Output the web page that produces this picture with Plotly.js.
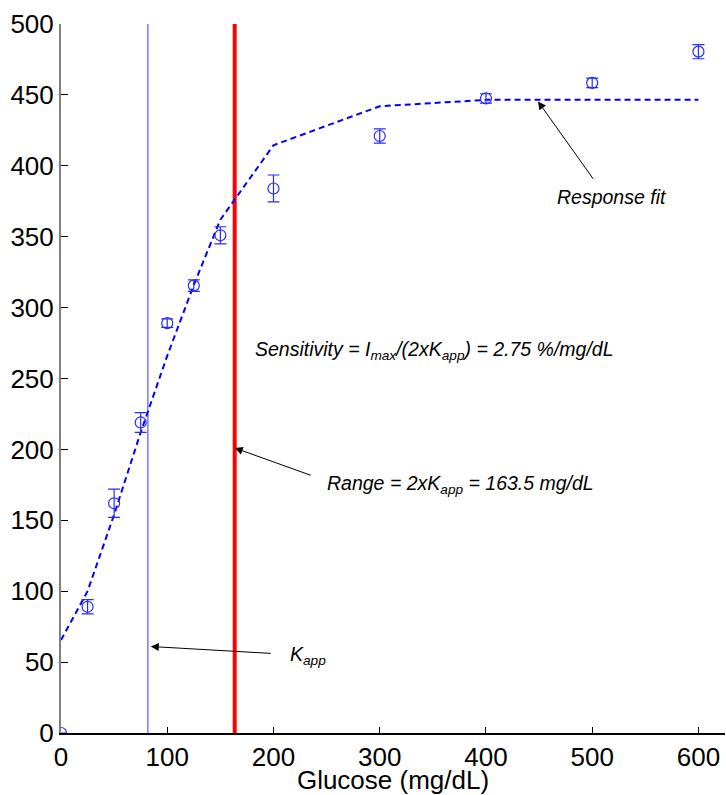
<!DOCTYPE html>
<html>
<head>
<meta charset="utf-8">
<script src="https://cdn.plot.ly/plotly-3.0.1.min.js"></script>
<style>html,body{margin:0;padding:0;background:#fff;}#chart{width:726px;height:795px;}</style>
</head>
<body>
<div id="chart"></div>
<script>
// Measured response data
const glucose = [0, 25, 50, 75, 100, 125, 150, 200, 300, 400, 500, 600];
const response = [0, 89, 162, 219, 289, 315.5, 351, 384, 421, 447.5, 458.5, 480.5];
const responseErr = [0, 5, 10, 7, 3, 4, 6, 9.5, 5, 3.3, 3.3, 5];

// Response fit (dashed)
const fitX = [0, 25, 50, 75, 100, 125, 150, 200, 300, 400, 500, 600];
const fitY = [65.5, 100, 154, 212, 266, 316, 362, 414.5, 442, 446.5, 446.5, 446.5];

// Reference values
const kapp = 81.75;
const rangeVal = 163.5;
const yExtent = [0, 500];
const xTicks = [0, 100, 200, 300, 400, 500, 600];

const font = "Liberation Sans, Arial, Helvetica, sans-serif";

const traces = [
  {x: [kapp, kapp], y: yExtent, mode: 'lines', line: {color: '#7878ff', width: 1.5}, hoverinfo: 'skip'},
  {x: [rangeVal, rangeVal], y: yExtent, mode: 'lines', line: {color: '#ff0000', width: 4}, hoverinfo: 'skip'},
  {x: fitX, y: fitY, mode: 'lines', line: {color: '#0000ff', width: 2, dash: '6px,4px'}},
  {x: glucose, y: response, mode: 'markers',
   marker: {symbol: 'circle-open', size: 11, color: '#2a2aff', line: {width: 1.2, color: '#2a2aff'}},
   error_y: {type: 'data', array: responseErr, visible: true, color: '#2a2aff', thickness: 1.2, width: 6}}
];

const annFont = {family: font, size: 19.5, color: '#000'};
const annotations = [
  // arrows
  {x: 449, y: 445.4, xref: 'x', yref: 'y', text: ' ', showarrow: true, ax: 57, ay: 80,
   arrowhead: 2, arrowsize: 1.6, arrowwidth: 1, arrowcolor: '#000', font: {size: 2}},
  {x: rangeVal, y: 201, xref: 'x', yref: 'y', text: ' ', showarrow: true, ax: 78, ay: 28,
   arrowhead: 2, arrowsize: 1.6, arrowwidth: 1, arrowcolor: '#000', font: {size: 2}},
  {x: 84.5, y: 61, xref: 'x', yref: 'y', text: ' ', showarrow: true, ax: 122, ay: 7,
   arrowhead: 2, arrowsize: 1.6, arrowwidth: 1, arrowcolor: '#000', font: {size: 2}},
  // labels
  {x: 518.8, y: 378.3, xref: 'x', yref: 'y', text: '<i>Response fit</i>', showarrow: false,
   xanchor: 'center', yanchor: 'middle', font: annFont},
  {x: 181, y: 269.5, xref: 'x', yref: 'y', text: '<i>Sensitivity = I<sub>max</sub>/(2xK<sub>app</sub>) = 2.75 %/mg/dL</i>', showarrow: false,
   xanchor: 'left', yanchor: 'middle', font: annFont},
  {x: 248.6, y: 175.3, xref: 'x', yref: 'y', text: '<i>Range = 2xK<sub>app</sub> = 163.5 mg/dL</i>', showarrow: false,
   xanchor: 'left', yanchor: 'middle', font: annFont},
  {x: 213.7, y: 54.8, xref: 'x', yref: 'y', text: '<i>K<sub>app</sub></i>', showarrow: false,
   xanchor: 'left', yanchor: 'middle', font: annFont}
];

const layout = {
  width: 726, height: 795,
  margin: {l: 61, r: 1, t: 24, b: 62},
  paper_bgcolor: '#fff', plot_bgcolor: '#fff',
  showlegend: false,
  font: {family: font, size: 26, color: '#000'},
  xaxis: {
    range: [0, 625], tickvals: xTicks, ticks: 'inside', ticklen: 6, tickwidth: 1, tickcolor: '#000',
    showline: true, linecolor: '#000', linewidth: 1.5, showgrid: false, zeroline: false,
    tickfont: {family: font, size: 26, color: '#000'},
    title: {text: 'Glucose (mg/dL)', font: {family: font, size: 26, color: '#000'}, standoff: 3}
  },
  yaxis: {
    range: [0, 500], dtick: 50, ticks: 'inside', ticklen: 7, tickwidth: 1, tickcolor: '#000',
    showline: true, linecolor: '#808080', linewidth: 2, showgrid: false, zeroline: false,
    tickfont: {family: font, size: 26, color: '#000'}
  },
  annotations: annotations
};

Plotly.newPlot('chart', traces, layout, {displayModeBar: false, staticPlot: true});
</script>
</body>
</html>
